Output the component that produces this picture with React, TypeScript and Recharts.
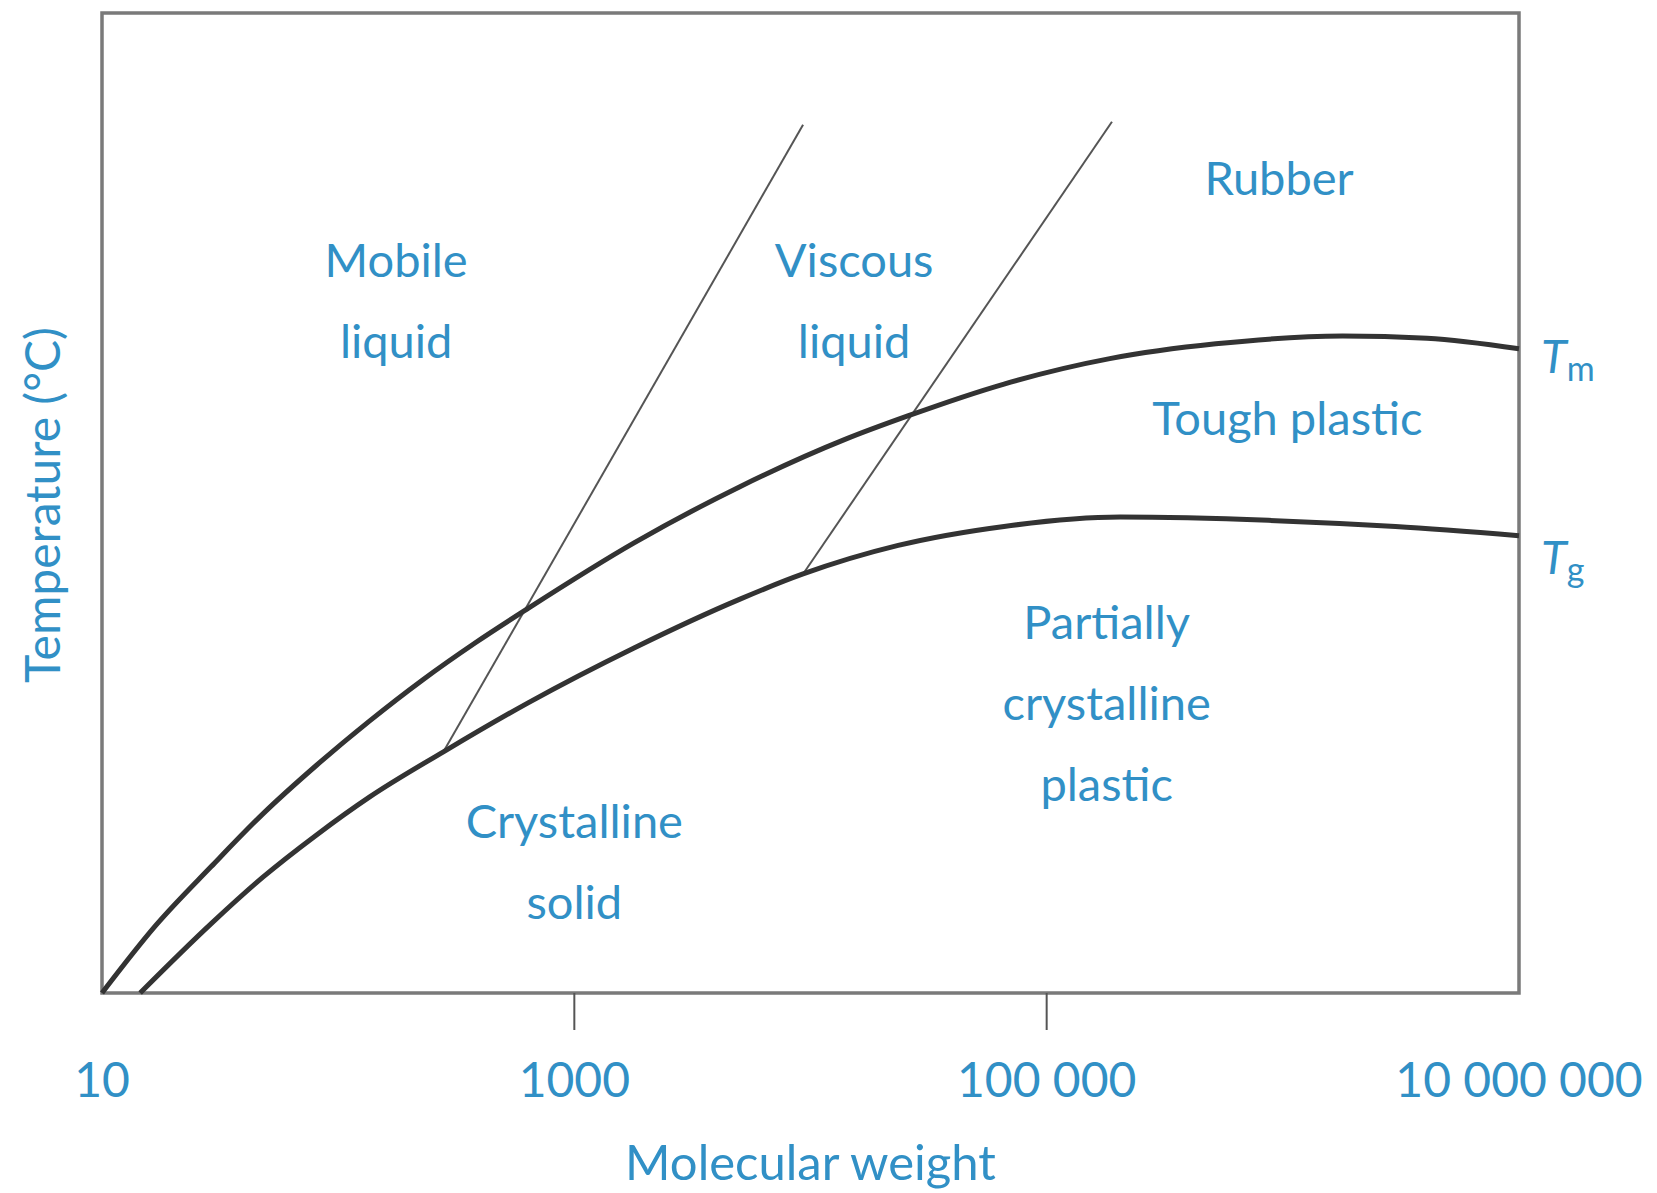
import {
  ComposedChart,
  Line,
  Scatter,
  XAxis,
  YAxis,
  ReferenceArea,
  LabelList,
  Label,
} from "recharts";

// Tm (melting) curve: molecular weight vs temperature (arbitrary scale 0-100)
const tmWeight = [10, 17, 29, 48, 81, 136, 227, 381, 637, 1790, 5000, 14000, 26000, 66000, 185000, 520000, 1790000, 4080000, 10000000];
const tmTemp = [0, 6.97, 12.9, 18.28, 23.24, 27.77, 31.92, 35.74, 39.25, 45.93, 51.64, 56.49, 58.91, 62.14, 64.73, 66.24, 67.03, 66.81, 65.73];

// Tg (glass transition) curve
const tgWeight = [14.5, 29, 48, 81, 136, 279, 637, 1790, 5000, 9300, 23500, 66000, 205000, 870000, 3000000, 10000000];
const tgTemp = [0, 7.08, 11.82, 16.13, 20.01, 24.61, 29.61, 35.21, 40.17, 42.76, 45.67, 47.61, 48.56, 48.23, 47.59, 46.66];

// thin boundary lines (mobile/viscous, viscous/rubber)
const boundary1Weight = [279, 9300];
const boundary1Temp = [24.61, 88.6];
const boundary2Weight = [9300, 189000];
const boundary2Temp = [42.76, 88.9];

const xTicks = [10, 1000, 100000, 10000000];
const xTickLabels = ["10", "1000", "100 000", "10 000 000"];

const regionNames = [
  ["Mobile", "liquid"],
  ["Viscous", "liquid"],
  ["Rubber"],
  ["Tough plastic"],
  ["Partially", "crystalline", "plastic"],
  ["Crystalline", "solid"],
];
const regionWeight = [176, 15300, 964000, 1045000, 179500, 1000];
const regionTemp = [73.1, 73.1, 81.4, 56.9, 36.1, 15.8];

const BLUE = "#3190c6";
const FONT = "Lato, 'Noto Sans', sans-serif";

const toPoints = (ws: number[], ts: number[]) => ws.map((w, i) => ({ w, t: ts[i] }));

const tmData = toPoints(tmWeight, tmTemp);
const tgData = toPoints(tgWeight, tgTemp);
const b1Data = toPoints(boundary1Weight, boundary1Temp);
const b2Data = toPoints(boundary2Weight, boundary2Temp);
const regionData = regionNames.map((lines, i) => ({ w: regionWeight[i], t: regionTemp[i], lines }));

function XTick(props: any) {
  const { x, y, payload } = props;
  const v = payload.value;
  const idx = xTicks.indexOf(v);
  const inner = idx > 0 && idx < xTicks.length - 1;
  return (
    <g>
      {inner && <line x1={x} x2={x} y1={y} y2={y + 37} stroke="#555" strokeWidth={2} />}
      <text x={x} y={y + 104} textAnchor="middle" fill={BLUE} fontSize={48} fontFamily={FONT}>
        {xTickLabels[idx]}
      </text>
    </g>
  );
}

function RegionLabel(props: any) {
  const { cx, cy, payload } = props;
  return (
    <text x={cx} y={cy} textAnchor="middle" fill={BLUE} fontSize={47} fontFamily={FONT}>
      {payload.lines.map((l: string, i: number) => (
        <tspan key={i} x={cx} dy={i === 0 ? 0 : 81}>
          {l}
        </tspan>
      ))}
    </text>
  );
}

const endLabel = (sub: string, dy: number, last: number) => (props: any) => {
  const { x, y, index } = props;
  if (index !== last) return null;
  return (
    <text x={x + 22} y={y + dy} fill={BLUE} fontSize={47} fontFamily={FONT}>
      <tspan fontStyle="italic">T</tspan>
      <tspan fontSize={34} dy={8}>{sub}</tspan>
    </text>
  );
};

export default function App() {
  return (
    <div style={{ position: "absolute", left: 0, top: 0, background: "#fff" }}>
      <ComposedChart width={1657} height={1193} margin={{ top: 13, right: 138, left: 0, bottom: 0 }}>
        <XAxis
          dataKey="w"
          type="number"
          scale="log"
          domain={[10, 10000000]}
          ticks={xTicks}
          height={200}
          axisLine={false}
          tickLine={false}
          tickSize={0}
          tickMargin={0}
          tick={<XTick />}
          interval={0}
        >
          <Label
            content={(p: any) => {
              const vb = p.viewBox ?? { x: 102, y: 993, width: 1417, height: 200 };
              return (
                <text x={vb.x + vb.width / 2} y={vb.y + 187} textAnchor="middle" fill={BLUE} fontSize={49} fontFamily={FONT}>
                  Molecular weight
                </text>
              );
            }}
          />
        </XAxis>
        <YAxis type="number" domain={[0, 100]} width={102} tick={false} axisLine={false} tickLine={false}>
          <Label
            content={(p: any) => {
              const vb = p.viewBox ?? { x: 0, y: 13, width: 102, height: 980 };
              const cx = vb.x + 60;
              const cy = vb.y + vb.height / 2 + 2;
              return (
                <text x={cx} y={cy} transform={`rotate(-90, ${cx}, ${cy})`} textAnchor="middle" fill={BLUE} fontSize={48} fontFamily={FONT}>
                  Temperature (°C)
                </text>
              );
            }}
          />
        </YAxis>
        <ReferenceArea x1={10} x2={10000000} y1={0} y2={100} fill="none" stroke="#7a7a7a" strokeWidth={3.5} />
        <Line data={b1Data} dataKey="t" type="linear" stroke="#555" strokeWidth={2} dot={false} isAnimationActive={false} />
        <Line data={b2Data} dataKey="t" type="linear" stroke="#555" strokeWidth={2} dot={false} isAnimationActive={false} />
        <Line data={tmData} dataKey="t" type="monotone" stroke="#333" strokeWidth={5} dot={false} isAnimationActive={false}>
          <LabelList dataKey="t" content={endLabel("m", 24, tmData.length - 1)} />
        </Line>
        <Line data={tgData} dataKey="t" type="monotone" stroke="#333" strokeWidth={5} dot={false} isAnimationActive={false}>
          <LabelList dataKey="t" content={endLabel("g", 38, tgData.length - 1)} />
        </Line>
        <Scatter data={regionData} dataKey="t" shape={<RegionLabel />} isAnimationActive={false} />
      </ComposedChart>
    </div>
  );
}
